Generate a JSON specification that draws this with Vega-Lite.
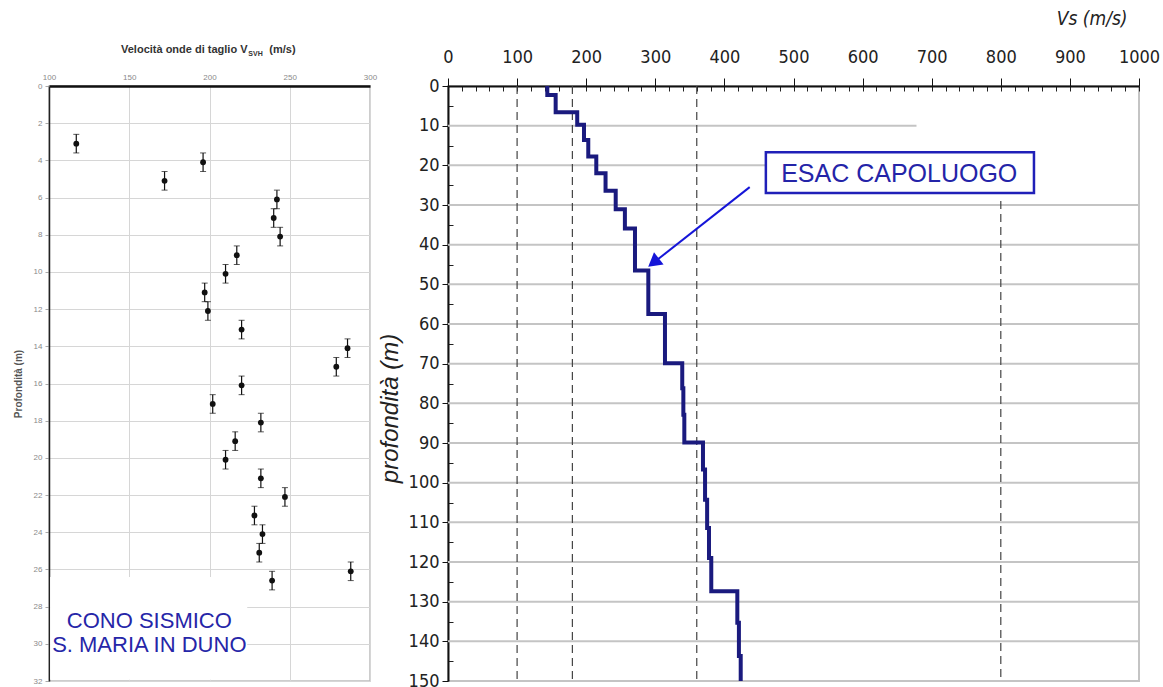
{
  "$schema": "https://vega.github.io/schema/vega-lite/v6.json",
  "background": "white",
  "padding": {"left": 12, "top": 8, "right": 5, "bottom": 0},
  "bounds": "flush",
  "spacing": 78,
  "config": {"view": {"stroke": null}, "font": "Liberation Sans", "axis": {"labelOverlap": false, "labelFlush": false}},
  "datasets": {
    "cono": [
      {"vs": 117, "d": 3.1, "lo": 2.6, "hi": 3.6},
      {"vs": 172, "d": 5.1, "lo": 4.6, "hi": 5.6},
      {"vs": 196, "d": 4.1, "lo": 3.6, "hi": 4.6},
      {"vs": 242, "d": 6.1, "lo": 5.6, "hi": 6.6},
      {"vs": 240, "d": 7.1, "lo": 6.6, "hi": 7.6},
      {"vs": 244, "d": 8.1, "lo": 7.6, "hi": 8.6},
      {"vs": 217, "d": 9.1, "lo": 8.6, "hi": 9.6},
      {"vs": 210, "d": 10.1, "lo": 9.6, "hi": 10.6},
      {"vs": 197, "d": 11.1, "lo": 10.6, "hi": 11.6},
      {"vs": 199, "d": 12.1, "lo": 11.6, "hi": 12.6},
      {"vs": 220, "d": 13.1, "lo": 12.6, "hi": 13.6},
      {"vs": 286, "d": 14.1, "lo": 13.6, "hi": 14.6},
      {"vs": 279, "d": 15.1, "lo": 14.6, "hi": 15.6},
      {"vs": 220, "d": 16.1, "lo": 15.6, "hi": 16.6},
      {"vs": 202, "d": 17.1, "lo": 16.6, "hi": 17.6},
      {"vs": 232, "d": 18.1, "lo": 17.6, "hi": 18.6},
      {"vs": 216, "d": 19.1, "lo": 18.6, "hi": 19.6},
      {"vs": 210, "d": 20.1, "lo": 19.6, "hi": 20.6},
      {"vs": 232, "d": 21.1, "lo": 20.6, "hi": 21.6},
      {"vs": 247, "d": 22.1, "lo": 21.6, "hi": 22.6},
      {"vs": 228, "d": 23.1, "lo": 22.6, "hi": 23.6},
      {"vs": 233, "d": 24.1, "lo": 23.6, "hi": 24.6},
      {"vs": 231, "d": 25.1, "lo": 24.6, "hi": 25.6},
      {"vs": 239, "d": 26.6, "lo": 26.1, "hi": 27.1},
      {"vs": 288, "d": 26.1, "lo": 25.6, "hi": 26.6}
    ],
    "step": [
      {"vs": 143.7, "depth": 0},
      {"vs": 155.8, "depth": 2.3},
      {"vs": 187, "depth": 6.6},
      {"vs": 196.8, "depth": 9.8},
      {"vs": 203, "depth": 13.6},
      {"vs": 214.6, "depth": 17.8},
      {"vs": 228, "depth": 22},
      {"vs": 242.7, "depth": 26.4},
      {"vs": 256, "depth": 31.1},
      {"vs": 270.6, "depth": 35.9},
      {"vs": 289.9, "depth": 46.5},
      {"vs": 314, "depth": 57.5},
      {"vs": 339, "depth": 69.9},
      {"vs": 340.6, "depth": 76.2},
      {"vs": 342, "depth": 82.9},
      {"vs": 369, "depth": 89.9},
      {"vs": 372, "depth": 96.7},
      {"vs": 375, "depth": 104.3},
      {"vs": 377.7, "depth": 111.4},
      {"vs": 381, "depth": 119},
      {"vs": 418.7, "depth": 127.4},
      {"vs": 421, "depth": 135.3},
      {"vs": 423.6, "depth": 143.7},
      {"vs": 423.6, "depth": 150}
    ],
    "soglie": [
      {"vs": 100, "d1": 0, "d2": 150},
      {"vs": 180, "d1": 0, "d2": 150},
      {"vs": 360, "d1": 0, "d2": 150},
      {"vs": 800, "d1": 29, "d2": 150}
    ],
    "griglia": [
      {"depth": 10, "v1": 0, "v2": 678},
      {"depth": 20, "v1": 0, "v2": 848},
      {"depth": 30, "v1": 0, "v2": 1000},
      {"depth": 40, "v1": 0, "v2": 1000},
      {"depth": 50, "v1": 0, "v2": 1000},
      {"depth": 60, "v1": 0, "v2": 1000},
      {"depth": 70, "v1": 0, "v2": 1000},
      {"depth": 80, "v1": 0, "v2": 1000},
      {"depth": 90, "v1": 0, "v2": 1000},
      {"depth": 100, "v1": 0, "v2": 1000},
      {"depth": 110, "v1": 0, "v2": 1000},
      {"depth": 120, "v1": 0, "v2": 1000},
      {"depth": 130, "v1": 0, "v2": 1000},
      {"depth": 140, "v1": 0, "v2": 1000}
    ]
  },
  "hconcat": [
    {
      "width": 321,
      "height": 595,
      "view": {"stroke": "#bdbdbd", "strokeWidth": 1.5},
      "encoding": {
        "x": {
          "type": "quantitative",
          "scale": {"domain": [100, 300], "nice": false, "zero": false},
          "axis": {"orient": "top", "values": [100, 150, 200, 250, 300], "labelFontSize": 8, "labelColor": "#8a8a8a", "ticks": false, "labelPadding": 5, "domainColor": "#111", "domainWidth": 2.5, "grid": true, "gridColor": "#d6d6d6", "title": null}
        },
        "y": {
          "type": "quantitative",
          "scale": {"domain": [0, 32], "reverse": true, "nice": false},
          "axis": {"orient": "left", "values": [0, 2, 4, 6, 8, 10, 12, 14, 16, 18, 20, 22, 24, 26, 28, 30, 32], "labelFontSize": 8, "labelColor": "#8a8a8a", "tickColor": "#aaaaaa", "tickSize": 4, "labelPadding": 3, "domainColor": "#222", "domainWidth": 1.5, "grid": true, "gridColor": "#d6d6d6", "title": "Profondità (m)", "titleFontSize": 10, "titleColor": "#555", "titleFontWeight": "bold", "titlePadding": 10}
        }
      },
      "layer": [
        {
          "data": {"name": "cono"},
          "mark": {"type": "errorbar", "ticks": {"size": 6, "color": "#111"}, "rule": {"color": "#111", "strokeWidth": 1.2}},
          "encoding": {
            "x": {"field": "vs", "type": "quantitative"},
            "y": {"field": "lo", "type": "quantitative"},
            "y2": {"field": "hi"}
          }
        },
        {
          "data": {"name": "cono"},
          "mark": {"type": "point", "filled": true, "size": 34, "color": "#111", "opacity": 1},
          "encoding": {
            "x": {"field": "vs", "type": "quantitative"},
            "y": {"field": "d", "type": "quantitative"}
          }
        },
        {
          "data": {"values": [{"label": "CONO SISMICO"}]},
          "mark": {"type": "rect", "fill": "white", "stroke": null},
          "encoding": {
            "x": {"datum": 100.7}, "x2": {"datum": 223.5},
            "y": {"datum": 26.4}, "y2": {"datum": 31.93}
          }
        },
        {
          "data": {"values": [{"label": "CONO SISMICO\nS. MARIA IN DUNO"}]},
          "mark": {"type": "text", "align": "center", "baseline": "middle", "fontSize": 22, "lineHeight": 24, "color": "#2626a8", "lineBreak": "\n"},
          "encoding": {
            "x": {"datum": 162.5}, "y": {"datum": 28.75},
            "text": {"field": "label"}
          }
        },
        {
          "data": {"values": [{"label": "Velocità onde di taglio V"}]},
          "mark": {"type": "text", "align": "right", "baseline": "middle", "fontSize": 11, "fontWeight": "bold", "color": "#333"},
          "encoding": {"x": {"datum": 223.7}, "y": {"datum": -1.96}, "text": {"field": "label"}}
        },
        {
          "data": {"values": [{"label": "SVH"}]},
          "mark": {"type": "text", "align": "left", "baseline": "middle", "fontSize": 7, "fontWeight": "bold", "color": "#333"},
          "encoding": {"x": {"datum": 224.2}, "y": {"datum": -1.74}, "text": {"field": "label"}}
        },
        {
          "data": {"values": [{"label": "(m/s)"}]},
          "mark": {"type": "text", "align": "left", "baseline": "middle", "fontSize": 11, "fontWeight": "bold", "color": "#333"},
          "encoding": {"x": {"datum": 237.3}, "y": {"datum": -1.96}, "text": {"field": "label"}}
        }
      ]
    },
    {
      "width": 691,
      "height": 595,
      "view": {"stroke": "#c4c4c4", "strokeWidth": 2},
      "resolve": {"axis": {"x": "independent", "y": "independent"}},
      "layer": [
        {
          "data": {"name": "griglia"},
          "mark": {"type": "rule", "color": "#c4c4c4", "strokeWidth": 2},
          "encoding": {
            "x": {
              "field": "v1", "type": "quantitative",
              "scale": {"domain": [0, 1000], "nice": false},
              "axis": {"orient": "top", "values": [0, 20, 40, 60, 80, 100, 120, 140, 160, 180, 200, 220, 240, 260, 280, 300, 320, 340, 360, 380, 400, 420, 440, 460, 480, 500, 520, 540, 560, 580, 600, 620, 640, 660, 680, 700, 720, 740, 760, 780, 800, 820, 840, 860, 880, 900, 920, 940, 960, 980, 1000], "labels": false, "domain": false, "grid": false, "tickSize": -5, "tickColor": "#222", "title": null, "maxExtent": 0, "minExtent": 0}
            },
            "x2": {"field": "v2"},
            "y": {
              "field": "depth", "type": "quantitative",
              "scale": {"domain": [0, 150], "reverse": true, "nice": false},
              "axis": {"orient": "left", "values": [5, 15, 25, 35, 45, 55, 65, 75, 85, 95, 105, 115, 125, 135, 145], "labels": false, "domain": false, "grid": false, "tickSize": -5, "tickColor": "#222", "title": null, "maxExtent": 0, "minExtent": 0}
            }
          }
        },
        {
          "data": {"name": "soglie"},
          "mark": {"type": "rule", "color": "#444", "strokeWidth": 1.2, "strokeDash": [8, 5]},
          "encoding": {
            "x": {
              "field": "vs", "type": "quantitative",
              "axis": {"orient": "top", "values": [0, 100, 200, 300, 400, 500, 600, 700, 800, 900, 1000], "format": "d", "labelFont": "DejaVu Sans Condensed, Liberation Sans, sans-serif", "labelFontSize": 18, "labelColor": "#222", "labelPadding": 12, "tickColor": "#111", "tickSize": 8, "domainColor": "#111", "domainWidth": 2, "grid": false, "title": "Vs (m/s)", "titleFont": "DejaVu Sans Condensed, Liberation Sans, sans-serif", "titleFontStyle": "italic", "titleFontWeight": "normal", "titleFontSize": 19, "titleColor": "#222", "titleAlign": "right", "titleAnchor": "end", "titleX": 679, "titleY": -58}
            },
            "y": {
              "field": "d1", "type": "quantitative",
              "axis": {"orient": "left", "values": [0, 10, 20, 30, 40, 50, 60, 70, 80, 90, 100, 110, 120, 130, 140, 150], "labelFont": "DejaVu Sans Condensed, Liberation Sans, sans-serif", "labelFontSize": 18, "labelColor": "#222", "tickColor": "#111", "tickSize": 6, "labelPadding": 3, "domainColor": "#111", "domainWidth": 2, "grid": false, "title": "profondità (m)", "titleFont": "Liberation Sans", "titleFontStyle": "italic", "titleFontWeight": "normal", "titleFontSize": 24, "titleColor": "#222", "titlePadding": 6, "titleY": 322}
            },
            "y2": {"field": "d2"}
          }
        },
        {
          "data": {"name": "step"},
          "mark": {"type": "line", "interpolate": "step-before", "color": "#1a1a7e", "strokeWidth": 4, "strokeJoin": "miter"},
          "encoding": {
            "x": {"field": "vs", "type": "quantitative", "axis": null},
            "y": {"field": "depth", "type": "quantitative", "axis": null},
            "order": {"field": "depth", "type": "quantitative"}
          }
        },
        {
          "data": {"values": [{"label": "ESAC CAPOLUOGO"}]},
          "mark": {"type": "rect", "fill": "white", "stroke": "#2020b8", "strokeWidth": 2.5},
          "encoding": {
            "x": {"datum": 460, "axis": null}, "x2": {"datum": 848},
            "y": {"datum": 16.7, "axis": null}, "y2": {"datum": 27.0}
          }
        },
        {
          "data": {"values": [{"label": "ESAC CAPOLUOGO"}]},
          "mark": {"type": "text", "align": "center", "baseline": "middle", "fontSize": 25, "color": "#2424a8"},
          "encoding": {"x": {"datum": 653, "axis": null}, "y": {"datum": 22.1, "axis": null}, "text": {"field": "label"}}
        },
        {
          "data": {"values": [{"label": "freccia"}]},
          "mark": {"type": "rule", "color": "#1515d8", "strokeWidth": 2},
          "encoding": {
            "x": {"datum": 436.6, "axis": null}, "x2": {"datum": 300},
            "y": {"datum": 25.5, "axis": null}, "y2": {"datum": 44.2}
          }
        },
        {
          "data": {"values": [{"label": "freccia"}]},
          "mark": {"type": "point", "shape": "triangle-up", "filled": true, "size": 240, "angle": 232, "color": "#1515d8", "opacity": 1},
          "encoding": {"x": {"datum": 297.4, "axis": null}, "y": {"datum": 44.5, "axis": null}}
        }
      ]
    }
  ]
}
